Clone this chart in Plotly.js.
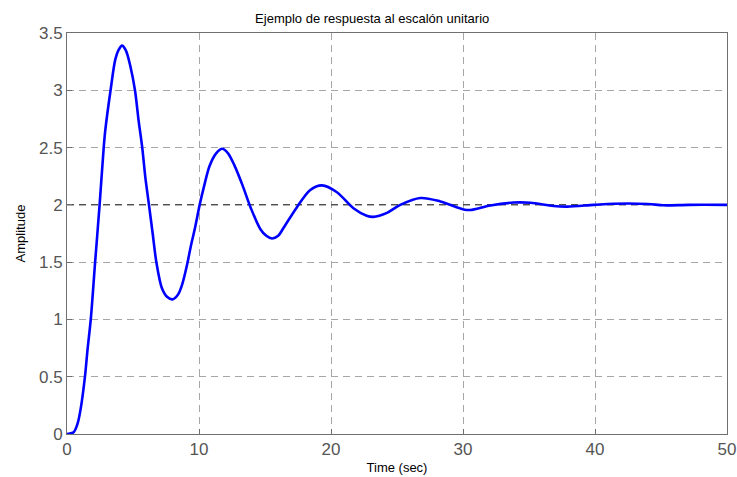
<!DOCTYPE html>
<html>
<head>
<meta charset="utf-8">
<script src="https://cdn.plot.ly/plotly-3.0.1.min.js"></script>
<style>html,body{margin:0;padding:0;background:#fff;}#chart{width:737px;height:477px;}</style>
</head>
<body>
<div id="chart"></div>
<script>
var timeSec = [0,0.5,0.8,1.05,1.36,1.55,1.8,2.13,2.47,2.78,2.9,3.3,3.66,3.9,4.17,4.45,4.8,5.15,5.42,5.7,5.93,6.21,6.49,6.77,7.2,7.6,8.0,8.4,8.71,9.1,9.4,9.7,10.05,10.4,10.8,11.3,11.76,12.2,12.7,13.3,13.9,14.64,15.1,15.53,16.0,16.41,17.42,18.43,19.32,20.45,21.7,22.7,23.2,24.24,25.25,26.77,28.28,30.05,30.55,32.07,33.84,35.1,36.86,37.9,39.9,41.4,44,45.2,47.1,50];
var amplitude = [0,0.015,0.09,0.23,0.5,0.73,1.0,1.5,2.0,2.5,2.65,3.0,3.27,3.35,3.39,3.35,3.21,3.0,2.74,2.5,2.245,2.0,1.75,1.5,1.27,1.195,1.175,1.215,1.3,1.48,1.65,1.8,2.0,2.17,2.34,2.45,2.49,2.45,2.34,2.17,1.98,1.79,1.73,1.706,1.73,1.8,1.98,2.13,2.17,2.11,1.97,1.905,1.895,1.93,2.0,2.06,2.03,1.96,1.955,1.995,2.02,2.018,1.99,1.985,2.0,2.01,2.008,1.996,2.0,2.0];
var finalValue = 2;
var timeRange = [0, 50];
var xTicks = [0,10,20,30,40,50];
var xTickLabels = ['0','10','20','30','40','50'];
var yTicks = [0,0.5,1,1.5,2,2.5,3,3.5];
var yTickLabels = ['0','0.5','1','1.5','2','2.5','3','3.5'];

var traces = [
  {x: timeRange, y: [finalValue, finalValue], mode: 'lines', hoverinfo: 'skip',
   line: {color: '#222', width: 1, dash: '7px,5px'}},
  {x: timeSec, y: amplitude, mode: 'lines',
   line: {color: '#0000ff', width: 2.6, shape: 'spline', smoothing: 0.9}}
];

var axisCommon = {
  showline: true, mirror: true, linecolor: '#707070', linewidth: 1,
  showgrid: true, gridcolor: '#a6a6a6', gridwidth: 1, griddash: '7px,5px',
  zeroline: false, ticks: 'inside', ticklen: 5, tickcolor: '#707070',
  tickfont: {family: 'Liberation Sans, Arial, sans-serif', size: 17, color: '#555'}
};

var layout = {
  width: 737, height: 477,
  margin: {l: 67, r: 10, t: 33, b: 43},
  paper_bgcolor: '#fff', plot_bgcolor: '#fff',
  showlegend: false,
  font: {family: 'Liberation Sans, Arial, sans-serif', color: '#000'},
  title: {text: 'Ejemplo de respuesta al escalón unitario', font: {size: 13, color: '#000'},
          xref: 'container', x: 0.505, xanchor: 'center', yref: 'container', y: 0.962, yanchor: 'middle'},
  xaxis: Object.assign({}, axisCommon, {
    range: timeRange, tickvals: xTicks, ticktext: xTickLabels,
    title: {text: 'Time (sec)', font: {size: 13, color: '#000'}, standoff: 4}
  }),
  yaxis: Object.assign({}, axisCommon, {
    range: [0, 3.5], tickvals: yTicks, ticktext: yTickLabels,
    title: {text: 'Amplitude', font: {size: 13, color: '#000'}, standoff: 10}
  })
};

Plotly.newPlot('chart', traces, layout, {staticPlot: true, displayModeBar: false});
</script>
</body>
</html>
